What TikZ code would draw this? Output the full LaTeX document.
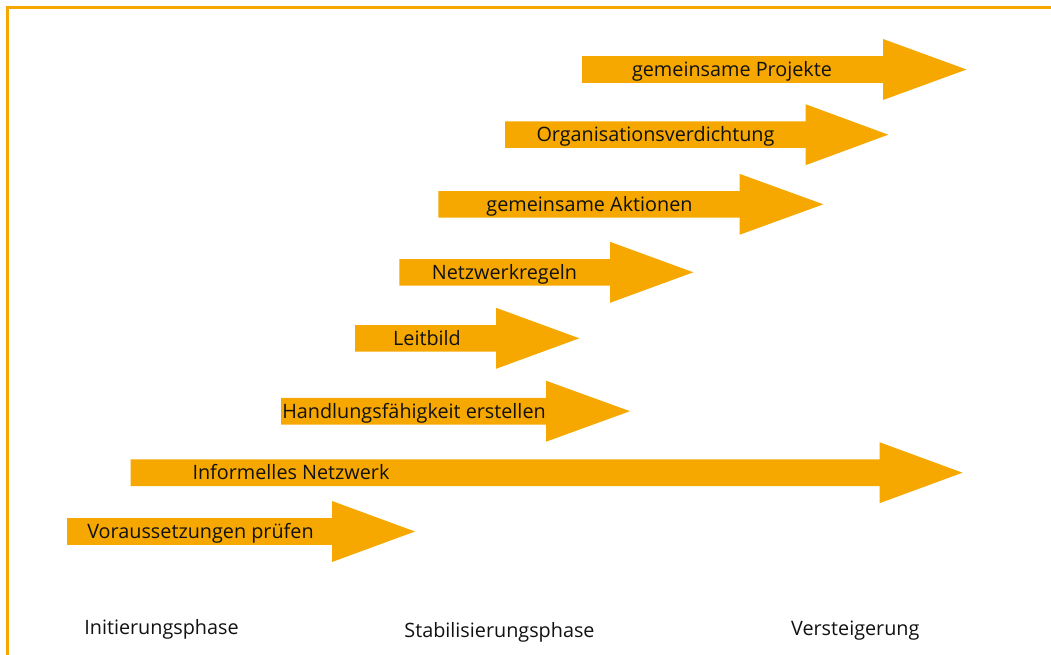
\documentclass[tikz,border=0pt]{standalone}
\usepackage{fontspec}
\setmainfont{Open Sans}
\definecolor{arrorange}{HTML}{F6A800}
\definecolor{txt}{HTML}{111111}
\tikzset{
  frameline/.style={draw=arrorange, line width=2.5bp},
  arrowfill/.style={fill=arrorange},
  lbl/.style={anchor=base, inner sep=0pt, text=txt, font=\fontsize{19.8bp}{22bp}\selectfont},
  phase/.style={anchor=base, inner sep=0pt, text=txt, font=\fontsize{19.8bp}{22bp}\selectfont}
}
\newcommand\orarrow[4]{% left x, head base x, tip x, centre y
  \fill[arrowfill] (#1,{#4-13.3}) -- (#2,{#4-13.3}) -- (#2,{#4-30.5}) -- (#3,#4)
    -- (#2,{#4+30.5}) -- (#2,{#4+13.3}) -- (#1,{#4+13.3}) -- cycle;}
\begin{document}
\begin{tikzpicture}[x=1bp,y=-1bp]
\useasboundingbox (0,0) rectangle (1051,655);
\draw[frameline] (1051,7.5) -- (7.5,7.5) -- (7.5,655);

\orarrow{582}{883}{966.5}{69.5}
\orarrow{505}{805.5}{888.3}{134.7}
\orarrow{438.3}{739.5}{823.3}{204.3}
\orarrow{399.3}{610}{693.3}{272.3}
\orarrow{355}{496}{579.3}{338.3}
\orarrow{281}{546}{630}{411.2}
\orarrow{130.7}{879.5}{962.5}{472.7}
\orarrow{67}{332}{415}{531.5}

\node[lbl] (t1) at (732,76.5) {gemeinsame Projekte};
\node[lbl] (t2) at (655.5,141.5) {Organisationsverdichtung};
\node[lbl] (t3) at (589.5,211) {gemeinsame Aktionen};
\node[lbl] (t4) at (504.5,279) {Netzwerkregeln};
\node[lbl] (t5) at (427,345) {Leitbild};
\node[lbl] (t6) at (414,418) {Handlungsfähigkeit erstellen};
\node[lbl] (t7) at (291,479.5) {Informelles Netzwerk};
\node[lbl] (t8) at (200.5,538) {Voraussetzungen prüfen};

\node[phase] (p1) at (161.5,634.3) {Initierungsphase};
\node[phase] (p2) at (499.5,637.3) {Stabilisierungsphase};
\node[phase] (p3) at (855.3,635) {Versteigerung};
\end{tikzpicture}
\end{document}
